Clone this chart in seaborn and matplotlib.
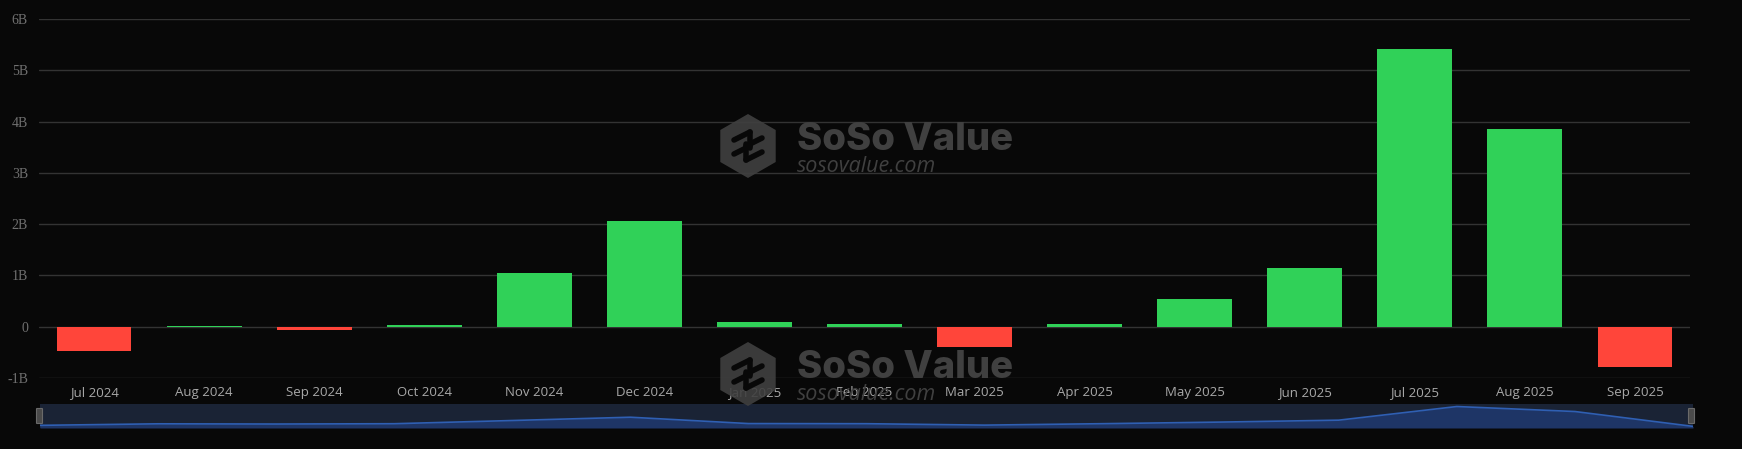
import matplotlib
matplotlib.use('Agg')
import matplotlib.pyplot as plt
from matplotlib.patches import RegularPolygon, FancyBboxPatch
import seaborn as sns
import numpy as np
import pandas as pd

months = ['Jul 2024', 'Aug 2024', 'Sep 2024', 'Oct 2024', 'Nov 2024', 'Dec 2024',
          'Jan 2025', 'Feb 2025', 'Mar 2025', 'Apr 2025', 'May 2025', 'Jun 2025',
          'Jul 2025', 'Aug 2025', 'Sep 2025']
# net flow, in billions USD
flows_b = [-0.47, 0.01, -0.06, 0.04, 1.04, 2.07, 0.085, 0.045, -0.40, 0.05,
           0.55, 1.15, 5.41, 3.85, -0.79]
y_ticks = [-1, 0, 1, 2, 3, 4, 5, 6]
y_labels = ['-1B', '0', '1B', '2B', '3B', '4B', '5B', '6B']

df = pd.DataFrame({'month': months, 'flow': flows_b})
df['sign'] = np.where(df['flow'] >= 0, 'in', 'out')

BG = '#080808'
W, H = 1742, 449

sns.set_theme(style='dark')
plt.rcParams['font.family'] = ['Open Sans', 'DejaVu Sans']

fig = plt.figure(figsize=(W / 100, H / 100), dpi=100, facecolor=BG)
ax = fig.add_axes([39 / W, 71 / H, (1690 - 39) / W, 359 / H])
ax.set_facecolor(BG)

for t in y_ticks:
    ax.axhline(t, color='#333333', lw=1, zorder=0)

sns.barplot(data=df, x='month', y='flow', hue='sign', dodge=False, width=0.68,
            palette={'in': '#30d158', 'out': '#ff453a'}, legend=False,
            saturation=1, edgecolor='none', linewidth=0, ax=ax, zorder=2)

ax.set_ylim(-1, 6)
ax.set_xlim(-0.5, len(months) - 0.5)
ax.set_yticks(y_ticks)
ax.set_yticklabels(y_labels, family=['Liberation Serif', 'DejaVu Serif'],
                   fontsize=10, color='#707070')
ax.tick_params(axis='y', length=0, pad=8)
ax.tick_params(axis='x', length=0, pad=6, labelsize=9.5, labelcolor='#a8a8a8')
ax.set_xlabel('')
ax.set_ylabel('')
for s in ax.spines.values():
    s.set_visible(False)


def watermark(cx, cy):
    # cx, cy in pixel coords from top-left
    fx, fy = cx / W, 1 - cy / H
    hexa = RegularPolygon((cx, H - cy), numVertices=6, radius=32, orientation=0,
                          transform=None, facecolor='#404040', edgecolor='none',
                          alpha=0.9, zorder=5)
    fig.patches.append(hexa)
    for (x0, y0, x1, y1) in [(-14, 6, 2, 14), (2, 14, 2, -2), (-14, -8, 2, 0),
                             (14, -6, -2, -14), (-2, -14, -2, 2), (14, 8, -2, 0)]:
        fig.lines.append(plt.Line2D([cx + x0, cx + x1], [H - cy + y0, H - cy + y1],
                                    transform=None, color=BG, lw=4, zorder=6))
    fig.text(fx + 49 / W, fy + 6 / H, 'SoSo Value', family=['Inter', 'DejaVu Sans'],
             fontweight='heavy', fontsize=27.5, color='#404040', va='center', ha='left',
             zorder=6)
    fig.text(fx + 49 / W, fy - 20 / H, 'sosovalue.com', family=['Open Sans', 'DejaVu Sans'],
             style='italic', fontsize=15.5, color='#404040', va='center', ha='left',
             zorder=6)


watermark(748, 146)
watermark(748, 374)

# zoom slider strip
sl = fig.add_axes([40 / W, (H - 428) / H, 1653 / W, 24 / H])
sl.set_facecolor('#1a2335')
xs = np.arange(len(flows_b))
sl.fill_between(xs, flows_b, -1.3, color='#1e3566', lw=0)
sl.plot(xs, flows_b, color='#2f5fb3', lw=1.2)
sl.set_xlim(0, len(flows_b) - 1)
sl.set_ylim(-1.3, 6.2)
sl.set_xticks([])
sl.set_yticks([])
for s in sl.spines.values():
    s.set_visible(False)

for hx in (37, 1689):
    fig.patches.append(FancyBboxPatch((hx, H - 423), 5, 14, boxstyle='round,pad=0.5',
                                      transform=None, facecolor='#4a4a4a',
                                      edgecolor='#6a6a6a', lw=0.8, zorder=10))

fig.savefig('out.png', dpi=100, facecolor=BG)
